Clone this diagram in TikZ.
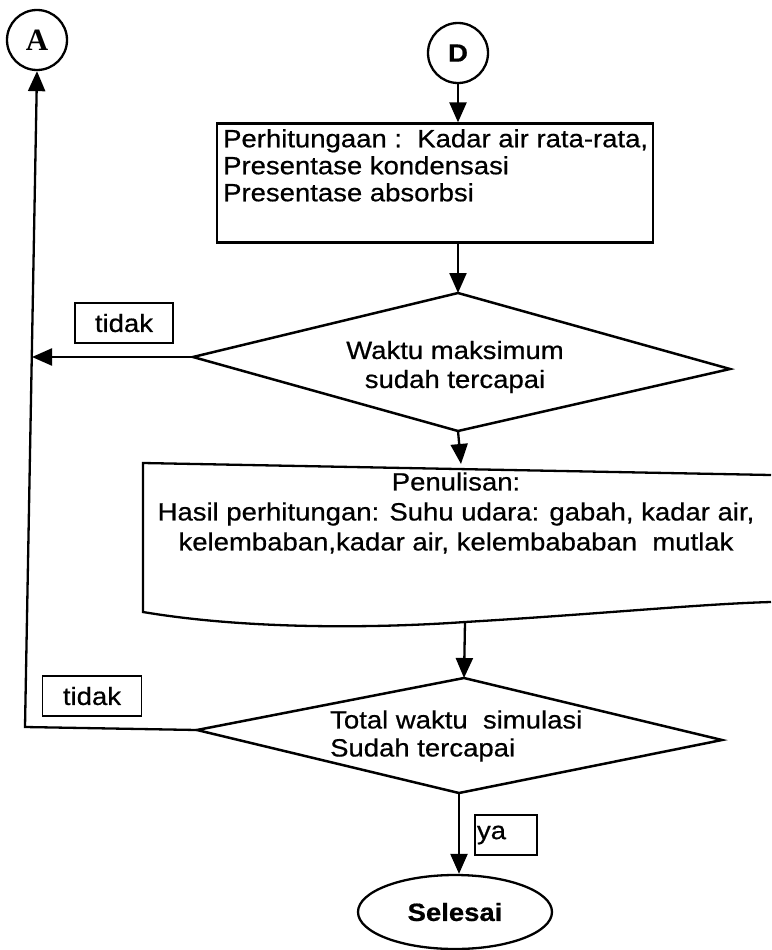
\documentclass[tikz,border=0pt]{standalone}
\usepackage{fontspec}
\setmainfont{Liberation Sans}[FakeStretch=1.1,FakeBold=0.6]
\newfontfamily\serifA{Liberation Serif}
\usetikzlibrary{shapes.geometric,arrows.meta}
\begin{document}
\begin{tikzpicture}[x=1pt,y=-1pt, line width=2.3pt,
  every node/.style={font=\fontsize{25}{29}\selectfont},
  arr/.style={-{Triangle[width=17pt,length=20pt]}},
  conn/.style={draw, circle, minimum size=60pt, inner sep=0pt, line width=2.3pt},
  boxr/.style={draw, rectangle, inner sep=0pt, line width=2.2pt},
  dshape/.style={line width=2.5pt, line join=miter},
  lbl/.style={draw, rectangle, line width=1.9pt, inner sep=0pt, minimum height=40pt},
  term/.style={draw, ellipse, inner sep=0pt, line width=2.3pt, font=\fontsize{25}{28}\selectfont\bfseries}
]
\useasboundingbox (0,0) rectangle (771,950);

% connectors (circles)
\node[conn, font=\fontsize{31}{31}\selectfont\serifA\bfseries] (A) at (37,40) {A};
\node[conn, font=\fontsize{25}{28}\selectfont\bfseries] (D) at (458,53) {D};

% box 1
\node[boxr, minimum width=436pt, minimum height=119pt] (box1) at (435,183) {};
\node[anchor=north west, align=left, inner sep=0pt, font=\fontsize{25}{27}\selectfont] (box1t) at (222,128)
  {Perhitungaan :\ \ Kadar air rata-rata,\\Presentase kondensasi\\Presentase absorbsi};

% decision 1
\coordinate (d1n) at (458,293);
\coordinate (d1w) at (193,357);
\coordinate (d1e) at (730,369);
\coordinate (d1s) at (458,431);
\draw[dshape] (d1n) -- (d1e) -- (d1s) -- (d1w) -- cycle;
\node[align=center, font=\fontsize{25}{29}\selectfont] (d1t) at (455,367) {Waktu maksimum\\sudah tercapai};
\node[lbl, minimum width=98pt] (t1) at (124,323) {tidak};

% document box 2
\coordinate (b2top) at (461,464);
\coordinate (b2bot) at (465,622);
\draw[line width=2.3pt] (771,475) -- (143,463) -- (143,612)
  .. controls (250,630) and (380,628) .. (b2bot)
  .. controls (600,614) and (700,604) .. (771,602);
\node[align=center, font=\fontsize{25}{30}\selectfont] (b2) at (456,513)
  {Penulisan:\\Hasil perhitungan: Suhu udara: gabah, kadar air,\\kelembaban,kadar air, kelembababan\ \ mutlak};

% decision 2
\coordinate (d2n) at (464,678);
\coordinate (d2w) at (197,730);
\coordinate (d2e) at (722,740);
\coordinate (d2s) at (459,793);
\draw[dshape] (d2n) -- (d2e) -- (d2s) -- (d2w) -- cycle;
\node[anchor=west, align=left, inner sep=0pt, font=\fontsize{25}{28}\selectfont] (d2t) at (329,736)
  {Total waktu\ \ simulasi\\Sudah tercapai};
\node[lbl, minimum width=99pt] (t2) at (92,696) {tidak};

% yes label and end
\node[lbl, minimum width=62pt, text width=58pt, align=left, inner sep=1pt] (ya) at (506,835) {ya};
\node[term, minimum width=194pt, minimum height=74pt] (end) at (455,912) {Selesai};

% left return line
\coordinate (c2) at (25,727);
\coordinate (c1) at (32,357);

% connectors
\draw[arr] (D.south) -- (box1.north -| D.south);
\draw[arr] (box1.south -| d1n) -- (d1n);
\draw[arr] (d1s) -- (b2top);
\draw[arr] (b2bot) -- (d2n);
\draw[arr] (d2s) -- (d2s |- end.north);
\draw[arr] (d1w) -- (c1);
\draw[arr] (d2w) -- (c2) -- (A.south);
\end{tikzpicture}
\end{document}
